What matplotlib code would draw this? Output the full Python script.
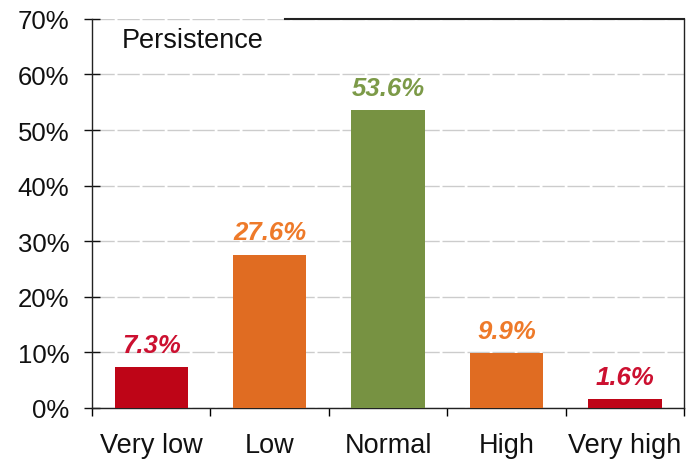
import numpy as np
import matplotlib.pyplot as plt

categories = ['Very low', 'Low', 'Normal', 'High', 'Very high']
values = [7.3, 27.6, 53.6, 9.9, 1.6]
bar_colors = ['#BE0517', '#E06C22', '#779242', '#E06C22', '#BE0517']
label_colors = ['#CC1030', '#EE7A2A', '#7C9A48', '#EE7A2A', '#CC1030']
yticks = [0, 10, 20, 30, 40, 50, 60, 70]

plt.rcParams['font.family'] = ['Liberation Sans', 'DejaVu Sans']

fig = plt.figure(figsize=(6.87, 4.6), dpi=100)
ax = fig.add_axes([0.134, 0.111, 0.862, 0.8457])

x = np.arange(len(categories))
bars = ax.bar(x, values, width=0.62, color=bar_colors, zorder=3)

for bar, val, col in zip(bars, values, label_colors):
    ax.annotate(f'{val:.1f}%',
                xy=(bar.get_x() + bar.get_width() / 2, bar.get_height()),
                xytext=(0, 11), textcoords='offset points',
                ha='center', va='baseline', fontsize=18.5,
                fontweight='bold', fontstyle='italic', color=col)

ax.set_xlim(-0.5, len(categories) - 0.5)
ax.set_ylim(0, 70)
ax.set_yticks(yticks)
ax.set_yticklabels([f'{t}%' for t in yticks])
ax.set_xticks(x)
ax.set_xticklabels(categories)
ax.set_xticks(np.arange(-0.5, len(categories)), minor=True)

ax.tick_params(axis='y', direction='inout', length=11, width=1,
               labelsize=18.5, pad=11, colors='#111111')
ax.tick_params(axis='x', which='major', length=0, labelsize=19.5, pad=17,
               colors='#111111')
ax.tick_params(axis='x', which='minor', direction='out', length=6, width=1)

ax.yaxis.grid(True, color='#cccccc', linestyle=(0, (16, 2)), linewidth=1, zorder=0)
ax.set_axisbelow(True)

for side in ['left', 'bottom', 'right']:
    ax.spines[side].set_color('#222222')
    ax.spines[side].set_linewidth(1)
ax.spines['top'].set_visible(False)
ax.plot([0.325, 1], [1, 1], transform=ax.transAxes, color='#222222',
        linewidth=1.5, clip_on=False)

ax.text(0.05, 0.946, 'Persistence', transform=ax.transAxes,
        fontsize=19.5, va='center', ha='left', color='#111111')

fig.savefig('out.png', dpi=100)
